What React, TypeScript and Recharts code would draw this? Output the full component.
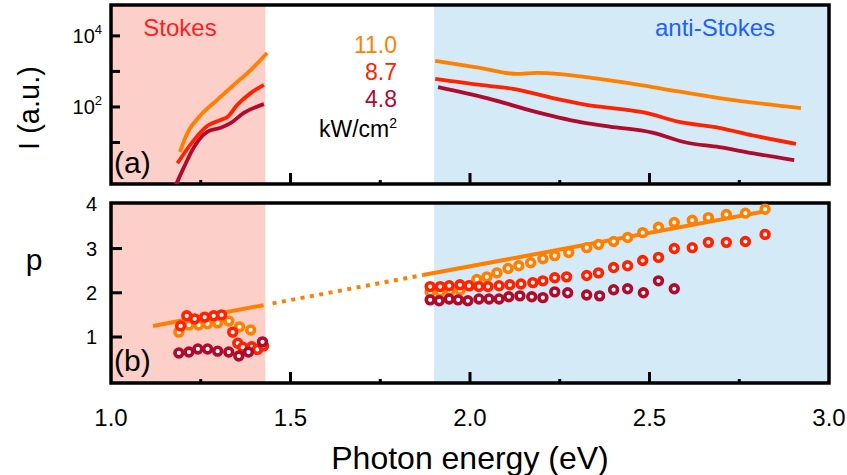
import React from 'react';
import { ComposedChart, Line, Scatter, XAxis, YAxis, ReferenceArea } from 'recharts';

const FONT = '"Liberation Sans", Arial, Helvetica, sans-serif';
const C_ORANGE = '#FF7F00';
const C_RED = '#FF2200';
const C_DARK = '#B00A2C';
const PINK = '#FDCFC9';
const BLUE = '#D4EBF7';

// axes
const xDomain = [1, 3];
const xTicks = [1, 1.25, 1.5, 1.75, 2, 2.25, 2.5, 2.75, 3];
const xMajorTicks = [1, 1.5, 2, 2.5, 3];
const intensityDomain = [0.68, 74000];
const intensityTicks = [10, 100, 1000, 10000];
const intensityLabelled = [100, 10000];
const pDomain = [-0.04, 4.03];
const pTicks = [1, 2, 3, 4];
const stokesRange = [1.0, 1.43];
const antiStokesRange = [1.9, 3.0];

// panel (a): emission intensity (a.u.), log scale
const stokes110 = [
  { x: 1.192, v: 5.4 }, { x: 1.213, v: 18.6 }, { x: 1.25, v: 59 }, { x: 1.296, v: 158 },
  { x: 1.342, v: 417 }, { x: 1.389, v: 1096 }, { x: 1.435, v: 3311 },
];
const stokes87 = [
  { x: 1.185, v: 2.6 }, { x: 1.231, v: 11.7 }, { x: 1.268, v: 29 }, { x: 1.305, v: 43 },
  { x: 1.324, v: 52 }, { x: 1.352, v: 115 }, { x: 1.389, v: 245 }, { x: 1.426, v: 417 },
];
const stokes48 = [
  { x: 1.172, v: 0.4 }, { x: 1.183, v: 0.72 }, { x: 1.203, v: 2.0 }, { x: 1.231, v: 7.4 },
  { x: 1.268, v: 20 }, { x: 1.305, v: 26 }, { x: 1.333, v: 35 }, { x: 1.37, v: 68 }, { x: 1.426, v: 120 },
];
const anti110 = [
  { x: 1.903, v: 1995 }, { x: 2.028, v: 1259 }, { x: 2.13, v: 851 }, { x: 2.186, v: 912 },
  { x: 2.38, v: 575 }, { x: 2.508, v: 363 }, { x: 2.694, v: 178 }, { x: 2.922, v: 93 },
];
const anti87 = [
  { x: 1.903, v: 617 }, { x: 2.028, v: 417 }, { x: 2.12, v: 324 }, { x: 2.231, v: 178 },
  { x: 2.324, v: 115 }, { x: 2.397, v: 93 }, { x: 2.49, v: 68 }, { x: 2.583, v: 38 },
  { x: 2.694, v: 26 }, { x: 2.786, v: 16 }, { x: 2.908, v: 9.1 },
];
const anti48 = [
  { x: 1.911, v: 363 }, { x: 2.047, v: 178 }, { x: 2.186, v: 72 }, { x: 2.324, v: 35 },
  { x: 2.389, v: 28 }, { x: 2.508, v: 19 }, { x: 2.602, v: 10 }, { x: 2.694, v: 7.4 },
  { x: 2.786, v: 5.0 }, { x: 2.903, v: 3.2 },
];

// panel (b): exponent p
const p110 = [
  { x: 1.189, v: 1.11 }, { x: 1.217, v: 1.27 }, { x: 1.244, v: 1.27 }, { x: 1.269, v: 1.3 },
  { x: 1.297, v: 1.32 }, { x: 1.328, v: 1.36 }, { x: 1.358, v: 1.23 }, { x: 1.389, v: 1.16 },
  { x: 1.889, v: 2.02 }, { x: 1.917, v: 2.02 }, { x: 1.944, v: 2.04 }, { x: 1.972, v: 2.06 },
  { x: 2.0, v: 2.16 }, { x: 2.019, v: 2.3 }, { x: 2.047, v: 2.36 }, { x: 2.075, v: 2.45 },
  { x: 2.106, v: 2.55 }, { x: 2.136, v: 2.61 }, { x: 2.169, v: 2.68 }, { x: 2.203, v: 2.77 },
  { x: 2.236, v: 2.84 }, { x: 2.275, v: 2.91 }, { x: 2.325, v: 3.02 }, { x: 2.358, v: 3.09 },
  { x: 2.4, v: 3.16 }, { x: 2.439, v: 3.25 }, { x: 2.481, v: 3.36 }, { x: 2.525, v: 3.48 },
  { x: 2.569, v: 3.59 }, { x: 2.619, v: 3.64 }, { x: 2.664, v: 3.7 }, { x: 2.714, v: 3.77 },
  { x: 2.767, v: 3.8 }, { x: 2.822, v: 3.89 },
];
const p87 = [
  { x: 1.194, v: 1.25 }, { x: 1.211, v: 1.48 }, { x: 1.233, v: 1.41 }, { x: 1.261, v: 1.45 },
  { x: 1.286, v: 1.48 }, { x: 1.308, v: 1.5 }, { x: 1.339, v: 1.11 }, { x: 1.353, v: 0.86 },
  { x: 1.367, v: 0.77 }, { x: 1.392, v: 0.78 }, { x: 1.408, v: 0.72 }, { x: 1.425, v: 0.8 },
  { x: 1.889, v: 2.14 }, { x: 1.917, v: 2.14 }, { x: 1.942, v: 2.16 }, { x: 1.972, v: 2.18 },
  { x: 1.997, v: 2.16 }, { x: 2.025, v: 2.14 }, { x: 2.05, v: 2.14 }, { x: 2.081, v: 2.16 },
  { x: 2.111, v: 2.18 }, { x: 2.142, v: 2.2 }, { x: 2.175, v: 2.23 }, { x: 2.203, v: 2.27 },
  { x: 2.236, v: 2.34 }, { x: 2.269, v: 2.36 }, { x: 2.325, v: 2.39 }, { x: 2.358, v: 2.45 },
  { x: 2.4, v: 2.57 }, { x: 2.439, v: 2.61 }, { x: 2.481, v: 2.73 }, { x: 2.525, v: 2.8 },
  { x: 2.569, v: 3.0 }, { x: 2.619, v: 3.02 }, { x: 2.664, v: 3.14 }, { x: 2.714, v: 3.14 },
  { x: 2.767, v: 3.16 }, { x: 2.822, v: 3.32 },
];
const p48 = [
  { x: 1.189, v: 0.64 }, { x: 1.217, v: 0.66 }, { x: 1.242, v: 0.73 }, { x: 1.269, v: 0.73 },
  { x: 1.297, v: 0.68 }, { x: 1.328, v: 0.66 }, { x: 1.356, v: 0.57 }, { x: 1.383, v: 0.66 },
  { x: 1.422, v: 0.89 },
  { x: 1.889, v: 1.84 }, { x: 1.914, v: 1.82 }, { x: 1.942, v: 1.86 }, { x: 1.967, v: 1.84 },
  { x: 1.994, v: 1.82 }, { x: 2.025, v: 1.86 }, { x: 2.053, v: 1.86 }, { x: 2.081, v: 1.86 },
  { x: 2.108, v: 1.91 }, { x: 2.139, v: 1.93 }, { x: 2.172, v: 1.91 }, { x: 2.203, v: 1.89 },
  { x: 2.236, v: 2.02 }, { x: 2.272, v: 2.0 }, { x: 2.325, v: 1.95 }, { x: 2.361, v: 1.93 },
  { x: 2.4, v: 2.07 }, { x: 2.439, v: 2.09 }, { x: 2.483, v: 2.0 }, { x: 2.525, v: 2.27 },
  { x: 2.569, v: 2.09 },
];
const fitStokes = [{ x: 1.117, v: 1.25 }, { x: 1.425, v: 1.72 }];
const fitGap = [{ x: 1.45, v: 1.76 }, { x: 1.869, v: 2.4 }];
const fitAnti = [{ x: 1.869, v: 2.4 }, { x: 2.82, v: 3.84 }];

const W = 847;
// panel geometry (plot rectangles), shared by the charts and the tick overlay
const PLOT_LEFT = 111;
const PLOT_RIGHT = 829;
const TOP_PLOT = { top: 5, bottom: 184 };
const BOT_PLOT = { top: 203, bottom: 383 };

const xPx = (e: number) => PLOT_LEFT + ((e - xDomain[0]) / (xDomain[1] - xDomain[0])) * (PLOT_RIGHT - PLOT_LEFT);
const logYPx = (v: number) => {
  const lo = Math.log10(intensityDomain[0]);
  const hi = Math.log10(intensityDomain[1]);
  return TOP_PLOT.top + ((hi - Math.log10(v)) / (hi - lo)) * (TOP_PLOT.bottom - TOP_PLOT.top);
};
const pYPx = (v: number) =>
  BOT_PLOT.top + ((pDomain[1] - v) / (pDomain[1] - pDomain[0])) * (BOT_PLOT.bottom - BOT_PLOT.top);

const XLabel = (props: any) => {
  const { x, y, payload } = props;
  const v = Number(payload.value);
  if (!xMajorTicks.includes(v)) return <g />;
  return (
    <text x={x} y={y + 43} textAnchor="middle" fontSize={24} fontFamily={FONT} fill="#000">
      {v.toFixed(1)}
    </text>
  );
};

const LogYLabel = (props: any) => {
  const { x, y, payload } = props;
  const v = payload.value;
  if (!intensityLabelled.includes(v)) return <g />;
  const exp = Math.round(Math.log10(v));
  return (
    <text x={x - 9} y={y + 7} textAnchor="end" fontSize={20} fontFamily={FONT} fill="#000">
      10<tspan dy={-9} fontSize={13}>{exp}</tspan>
    </text>
  );
};

const PYLabel = (props: any) => {
  const { x, y, payload } = props;
  return (
    <text x={x - 14} y={y + 7} textAnchor="end" fontSize={20} fontFamily={FONT} fill="#000">
      {payload.value}
    </text>
  );
};

const Ring = (color: string) => (props: any) => {
  const { cx, cy } = props;
  if (cx == null || cy == null) return <g />;
  return <circle cx={cx} cy={cy} r={3.9} fill="#fff" stroke={color} strokeWidth={3.6} />;
};

const tickPath = (x1: number, y1: number, x2: number, y2: number, key: string) => (
  <path key={key} d={`M${x1},${y1}L${x2},${y2}`} stroke="#000" strokeWidth={3} fill="none" />
);

export default function App() {
  const innerX = xTicks.filter((t) => t !== xDomain[0] && t !== xDomain[1]);
  return (
    <div style={{ position: 'absolute', left: 0, top: 0, width: W, height: 475, background: '#fff' }}>
      <div style={{ position: 'absolute', left: 0, top: 0 }}>
        <ComposedChart width={W} height={190} margin={{ top: TOP_PLOT.top, right: W - PLOT_RIGHT, bottom: 190 - TOP_PLOT.bottom, left: 0 }}>
          <XAxis dataKey="x" type="number" domain={xDomain} allowDataOverflow hide />
          <YAxis type="number" scale="log" domain={intensityDomain} allowDataOverflow ticks={intensityTicks}
            interval={0} width={PLOT_LEFT} tickSize={0} tickMargin={0} axisLine={false} tickLine={false} tick={<LogYLabel />} />
          <ReferenceArea x1={stokesRange[0]} x2={stokesRange[1]} fill={PINK} fillOpacity={1} stroke="none" />
          <ReferenceArea x1={antiStokesRange[0]} x2={antiStokesRange[1]} fill={BLUE} fillOpacity={1} stroke="none" />
          <Line data={stokes48} dataKey="v" type="monotone" stroke={C_DARK} strokeWidth={3.8} dot={false} isAnimationActive={false} />
          <Line data={stokes87} dataKey="v" type="monotone" stroke={C_RED} strokeWidth={3.8} dot={false} isAnimationActive={false} />
          <Line data={stokes110} dataKey="v" type="monotone" stroke={C_ORANGE} strokeWidth={3.8} dot={false} isAnimationActive={false} />
          <Line data={anti48} dataKey="v" type="monotone" stroke={C_DARK} strokeWidth={3.8} dot={false} isAnimationActive={false} />
          <Line data={anti87} dataKey="v" type="monotone" stroke={C_RED} strokeWidth={3.8} dot={false} isAnimationActive={false} />
          <Line data={anti110} dataKey="v" type="monotone" stroke={C_ORANGE} strokeWidth={3.8} dot={false} isAnimationActive={false} />
          <ReferenceArea x1={xDomain[0]} x2={xDomain[1]} fill="none" stroke="#000" strokeWidth={3.5} />
        </ComposedChart>
      </div>
      <div style={{ position: 'absolute', left: 0, top: 190 }}>
        <ComposedChart width={W} height={285} margin={{ top: BOT_PLOT.top - 190, right: W - PLOT_RIGHT, bottom: 0, left: 0 }}>
          <XAxis dataKey="x" type="number" domain={xDomain} ticks={xMajorTicks} interval={0} allowDataOverflow
            height={475 - BOT_PLOT.bottom} tickSize={0} tickMargin={0} axisLine={false} tickLine={false} tick={<XLabel />} />
          <YAxis type="number" domain={pDomain} allowDataOverflow ticks={pTicks} interval={0}
            width={PLOT_LEFT} tickSize={0} tickMargin={0} axisLine={false} tickLine={false} tick={<PYLabel />} />
          <ReferenceArea x1={stokesRange[0]} x2={stokesRange[1]} fill={PINK} fillOpacity={1} stroke="none" />
          <ReferenceArea x1={antiStokesRange[0]} x2={antiStokesRange[1]} fill={BLUE} fillOpacity={1} stroke="none" />
          <Line data={fitStokes} dataKey="v" type="linear" stroke={C_ORANGE} strokeWidth={4} dot={false} isAnimationActive={false} />
          <Line data={fitGap} dataKey="v" type="linear" stroke={C_ORANGE} strokeWidth={4} strokeDasharray="4 5.5" dot={false} isAnimationActive={false} />
          <Line data={fitAnti} dataKey="v" type="linear" stroke={C_ORANGE} strokeWidth={4} dot={false} isAnimationActive={false} />
          <Scatter data={p110} dataKey="v" shape={Ring(C_ORANGE)} isAnimationActive={false} />
          <Scatter data={p87} dataKey="v" shape={Ring(C_RED)} isAnimationActive={false} />
          <Scatter data={p48} dataKey="v" shape={Ring(C_DARK)} isAnimationActive={false} />
          <ReferenceArea x1={xDomain[0]} x2={xDomain[1]} fill="none" stroke="#000" strokeWidth={3.5} />
        </ComposedChart>
      </div>
      <svg width={W} height={475} style={{ position: 'absolute', left: 0, top: 0, pointerEvents: 'none' }} fontFamily={FONT}>
        {/* inward tick marks */}
        {innerX.map((t) => {
          const len = xMajorTicks.includes(t) ? 11 : 4;
          return tickPath(xPx(t), TOP_PLOT.bottom, xPx(t), TOP_PLOT.bottom - len, `ta${t}`);
        })}
        {innerX.map((t) => {
          const len = xMajorTicks.includes(t) ? 11 : 4;
          return tickPath(xPx(t), BOT_PLOT.bottom, xPx(t), BOT_PLOT.bottom - len, `tb${t}`);
        })}
        {intensityTicks.map((t) => tickPath(PLOT_LEFT, logYPx(t), PLOT_LEFT + 9, logYPx(t), `ya${t}`))}
        {pTicks.slice(0, 3).map((t) => tickPath(PLOT_LEFT, pYPx(t), PLOT_LEFT + 11, pYPx(t), `yb${t}`))}

        <text x={29} y={108} transform="rotate(-90 29 108)" textAnchor="middle" dominantBaseline="central" fontSize={29} fill="#000">I (a.u.)</text>
        <text x={34} y={270} textAnchor="middle" fontSize={30} fill="#000">p</text>
        <text x={180} y={36} textAnchor="middle" fontSize={24} fill="#FF1E1E">Stokes</text>
        <text x={715} y={36} textAnchor="middle" fontSize={24} fill="#1E5EFF">anti-Stokes</text>
        <text x={397} y={53} textAnchor="end" fontSize={23} fill={C_ORANGE}>11.0</text>
        <text x={397} y={80} textAnchor="end" fontSize={23} fill={C_RED}>8.7</text>
        <text x={397} y={107} textAnchor="end" fontSize={23} fill={C_DARK}>4.8</text>
        <text x={397} y={137} textAnchor="end" fontSize={23} fill="#000">kW/cm<tspan dy={-9} fontSize={14}>2</tspan></text>
        <text x={114} y={173} textAnchor="start" fontSize={30} fill="#000">(a)</text>
        <text x={114} y={371} textAnchor="start" fontSize={30} fill="#000">(b)</text>
        <text x={470} y={469} textAnchor="middle" fontSize={32} fill="#000">Photon energy (eV)</text>
      </svg>
    </div>
  );
}
